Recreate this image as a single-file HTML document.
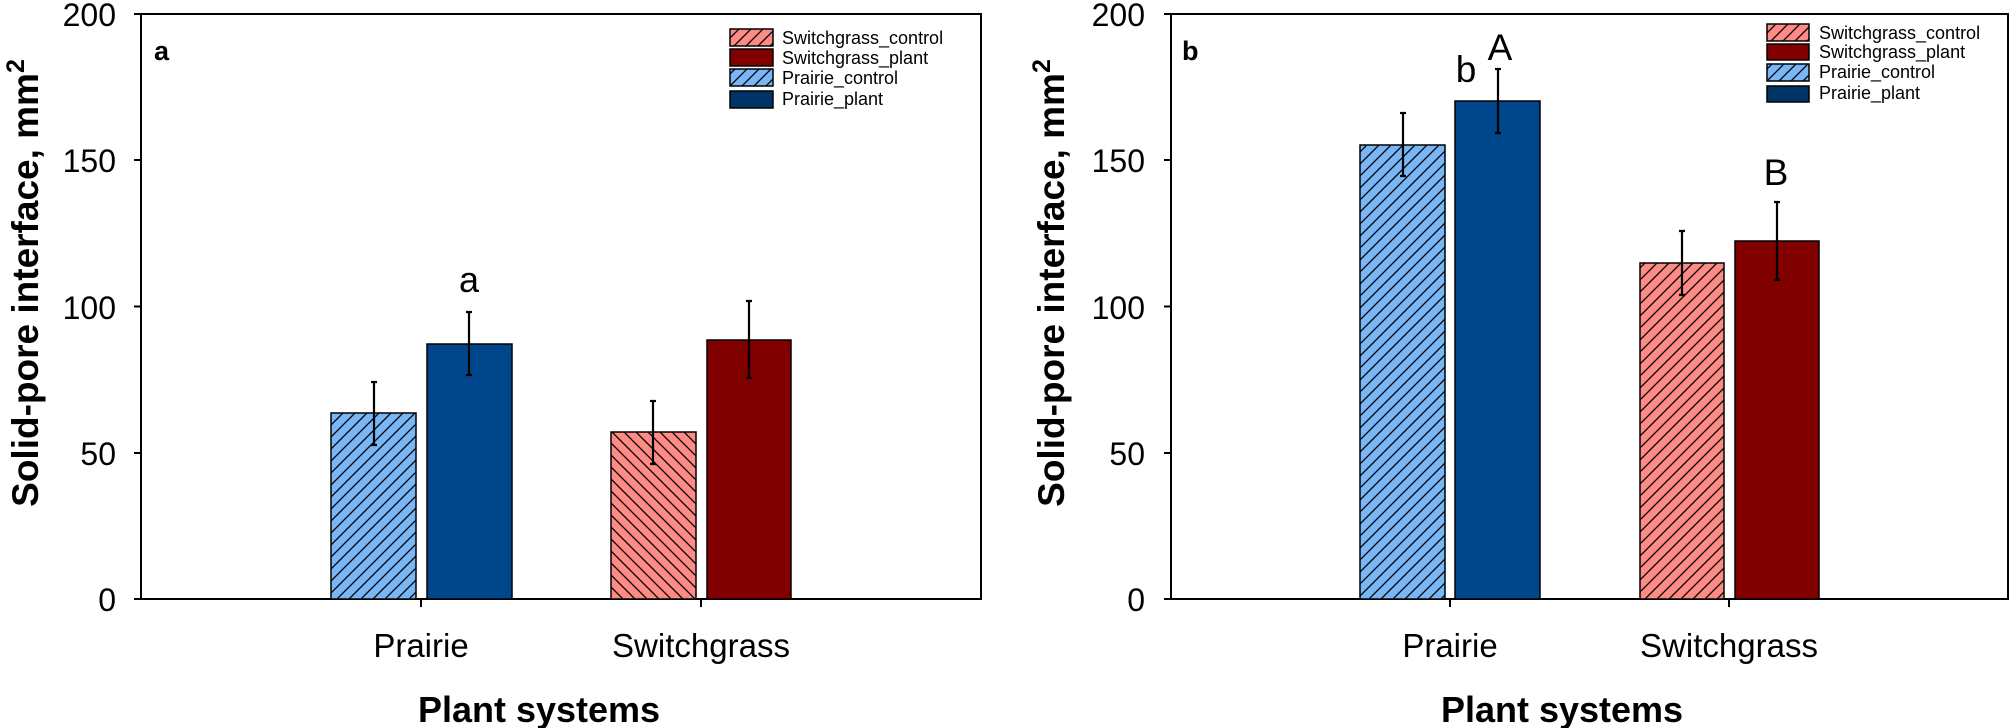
<!DOCTYPE html>
<html><head><meta charset="utf-8"><style>
html,body{margin:0;padding:0;background:#fff}
svg{display:block}
text{font-family:"Liberation Sans",Arial,sans-serif;fill:#000}
</style></head><body>
<svg width="2011" height="728" viewBox="0 0 2011 728" xmlns="http://www.w3.org/2000/svg">
<defs>
<pattern id="hb" patternUnits="userSpaceOnUse" width="12" height="12"><rect width="12" height="12" fill="#78b6f6"/><path d="M-3,3 L3,-3 M0,12 L12,0 M9,15 L15,9" stroke="#000" stroke-width="1.3"/></pattern>
<pattern id="hr" patternUnits="userSpaceOnUse" width="12" height="12"><rect width="12" height="12" fill="#fd8a85"/><path d="M-3,3 L3,-3 M0,12 L12,0 M9,15 L15,9" stroke="#000" stroke-width="1.3"/></pattern>
<pattern id="hr2" patternUnits="userSpaceOnUse" width="12" height="12"><rect width="12" height="12" fill="#fd8a85"/><path d="M-3,9 L3,15 M0,0 L12,12 M9,-3 L15,3" stroke="#000" stroke-width="1.3"/></pattern>
</defs>

<!-- Panel a -->
<g>
<rect x="141" y="14" width="840" height="585" fill="none" stroke="#000" stroke-width="2"/>
<g stroke="#000" stroke-width="2">
<line x1="134" y1="14" x2="141" y2="14"/><line x1="134" y1="160" x2="141" y2="160"/><line x1="134" y1="306.5" x2="141" y2="306.5"/><line x1="134" y1="453" x2="141" y2="453"/><line x1="134" y1="599" x2="141" y2="599"/>
<line x1="421" y1="599" x2="421" y2="607"/><line x1="701" y1="599" x2="701" y2="607"/>
</g>
<g font-size="32" text-anchor="end">
<text x="116" y="26">200</text><text x="116" y="172">150</text><text x="116" y="319">100</text><text x="116" y="465">50</text><text x="116" y="611">0</text>
</g>
<rect x="331" y="413" width="85" height="186" fill="url(#hb)" stroke="#000" stroke-width="1.5"/>
<rect x="427" y="344" width="85" height="255" fill="#00468b" stroke="#000" stroke-width="1.5"/>
<rect x="611" y="432" width="85" height="167" fill="url(#hr2)" stroke="#000" stroke-width="1.5"/>
<rect x="707" y="340" width="84" height="259" fill="#800000" stroke="#000" stroke-width="1.5"/>
<g stroke="#000" stroke-width="2.2">
<path d="M374,382 V445 M371,382 H377 M371,445 H377"/>
<path d="M469,312 V375 M466,312 H472 M466,375 H472"/>
<path d="M653,401 V464 M650,401 H656 M650,464 H656"/>
<path d="M749,301 V378 M746,301 H752 M746,378 H752"/>
</g>
<text x="469" y="292" font-size="36" text-anchor="middle">a</text>
<text x="154" y="60" font-size="27" font-weight="bold">a</text>
<g stroke="#000" stroke-width="1.5">
<rect x="730" y="29" width="43" height="17" fill="url(#hr)"/>
<rect x="730" y="49" width="43" height="17" fill="#800000"/>
<rect x="730" y="69" width="43" height="17" fill="url(#hb)"/>
<rect x="730" y="91" width="43" height="17" fill="#003366"/>
</g>
<g font-size="18">
<text x="782" y="44">Switchgrass_control</text><text x="782" y="64">Switchgrass_plant</text><text x="782" y="84">Prairie_control</text><text x="782" y="105">Prairie_plant</text>
</g>
<text x="421" y="657" font-size="33" text-anchor="middle">Prairie</text>
<text x="701" y="657" font-size="33" text-anchor="middle">Switchgrass</text>
<text x="539" y="722" font-size="36" font-weight="bold" text-anchor="middle">Plant systems</text>
<text transform="translate(38,283) rotate(-90)" font-size="37" font-weight="bold" text-anchor="middle">Solid-pore interface, mm<tspan dy="-14" font-size="25">2</tspan></text>
</g>

<!-- Panel b -->
<g>
<rect x="1171" y="14" width="837" height="585" fill="none" stroke="#000" stroke-width="2"/>
<g stroke="#000" stroke-width="2">
<line x1="1164" y1="14" x2="1171" y2="14"/><line x1="1164" y1="160" x2="1171" y2="160"/><line x1="1164" y1="306.5" x2="1171" y2="306.5"/><line x1="1164" y1="453" x2="1171" y2="453"/><line x1="1164" y1="599" x2="1171" y2="599"/>
<line x1="1450" y1="599" x2="1450" y2="607"/><line x1="1729" y1="599" x2="1729" y2="607"/>
</g>
<g font-size="32" text-anchor="end">
<text x="1145" y="26">200</text><text x="1145" y="172">150</text><text x="1145" y="319">100</text><text x="1145" y="465">50</text><text x="1145" y="611">0</text>
</g>
<rect x="1360" y="145" width="85" height="454" fill="url(#hb)" stroke="#000" stroke-width="1.5"/>
<rect x="1455" y="101" width="85" height="498" fill="#00468b" stroke="#000" stroke-width="1.5"/>
<rect x="1640" y="263" width="84" height="336" fill="url(#hr)" stroke="#000" stroke-width="1.5"/>
<rect x="1735" y="241" width="84" height="358" fill="#800000" stroke="#000" stroke-width="1.5"/>
<g stroke="#000" stroke-width="2.2">
<path d="M1403,113 V176 M1400,113 H1406 M1400,176 H1406"/>
<path d="M1498,69 V133 M1495,69 H1501 M1495,133 H1501"/>
<path d="M1682,231 V295 M1679,231 H1685 M1679,295 H1685"/>
<path d="M1777,202 V280 M1774,202 H1780 M1774,280 H1780"/>
</g>
<text x="1466" y="82" font-size="37" text-anchor="middle">b</text>
<text x="1500" y="60" font-size="37" text-anchor="middle">A</text>
<text x="1776" y="185" font-size="37" text-anchor="middle">B</text>
<text x="1182" y="60" font-size="27" font-weight="bold">b</text>
<g stroke="#000" stroke-width="1.5">
<rect x="1767" y="24" width="42" height="17" fill="url(#hr)"/>
<rect x="1767" y="44" width="42" height="16" fill="#800000"/>
<rect x="1767" y="64" width="42" height="17" fill="url(#hb)"/>
<rect x="1767" y="86" width="42" height="16" fill="#003366"/>
</g>
<g font-size="18">
<text x="1819" y="39">Switchgrass_control</text><text x="1819" y="58">Switchgrass_plant</text><text x="1819" y="78">Prairie_control</text><text x="1819" y="99">Prairie_plant</text>
</g>
<text x="1450" y="657" font-size="33" text-anchor="middle">Prairie</text>
<text x="1729" y="657" font-size="33" text-anchor="middle">Switchgrass</text>
<text x="1562" y="722" font-size="36" font-weight="bold" text-anchor="middle">Plant systems</text>
<text transform="translate(1064,283) rotate(-90)" font-size="37" font-weight="bold" text-anchor="middle">Solid-pore interface, mm<tspan dy="-14" font-size="25">2</tspan></text>
</g>
</svg>
</body></html>
